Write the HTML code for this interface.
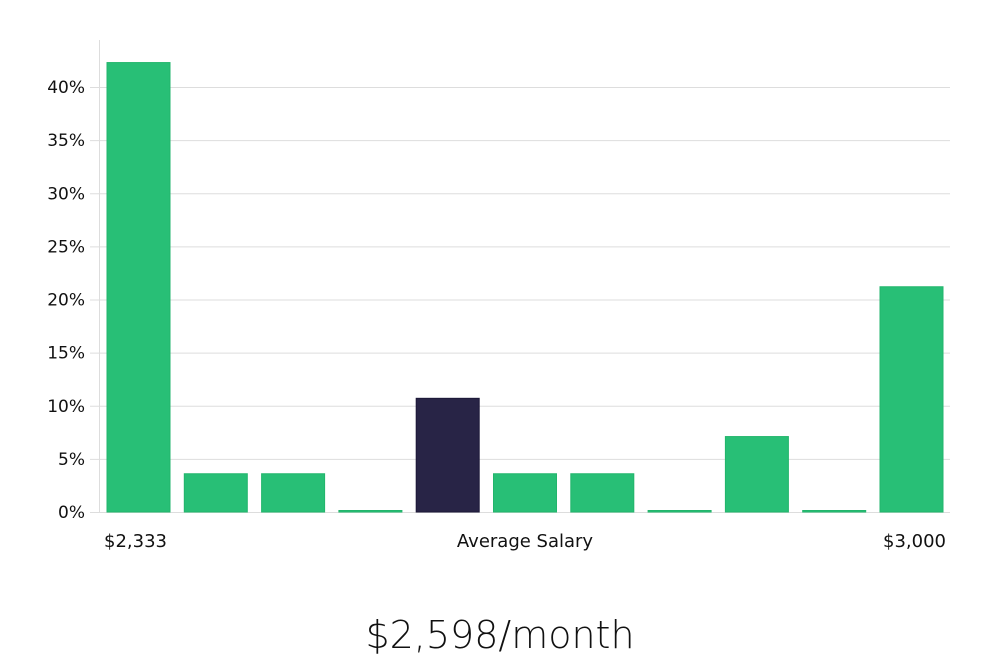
<!DOCTYPE html>
<html><head><meta charset="utf-8"><style>
body{margin:0;background:#fff;width:1000px;height:660px;overflow:hidden}
svg text{font-family:"DejaVu Sans","Liberation Sans",sans-serif}
</style></head><body>
<svg id="chart" width="1000" height="660" xmlns="http://www.w3.org/2000/svg">
<g id="grid"></g><g id="bars"></g><g id="labels"></g>
<text x="104" y="547" font-size="18" fill="#111">$2,333</text>
<text x="525" y="547" font-size="18" fill="#111" text-anchor="middle">Average Salary</text>
<text x="946" y="547" font-size="18" fill="#111" text-anchor="end">$3,000</text>
<text x="500" y="648" font-size="38" fill="#111" text-anchor="middle" style="font-family:'DejaVu Sans Light','Liberation Sans',sans-serif;font-weight:300">$2,598/month</text>
</svg>
<script>
const values=[42.3,3.6,3.6,0,10.7,3.6,3.6,0,7.1,0,21.2];
const highlight=[false,false,false,false,true,false,false,false,false,false,false];
const ticks=[0,5,10,15,20,25,30,35,40];
const ns="http://www.w3.org/2000/svg";
const y=v=>512-v*10.625;
const x=i=>107+i*77.3;
const grid=document.getElementById('grid'),bars=document.getElementById('bars'),labels=document.getElementById('labels');
function mk(tag,at,parent){const e=document.createElementNS(ns,tag);for(const k in at)e.setAttribute(k,at[k]);parent.appendChild(e);return e;}
const ax=mk('line',{x1:99.5,x2:99.5,y1:40,y2:512,stroke:'#ddd'},grid);


ticks.forEach(t=>{
 const l=mk('line',{x1:90,x2:950,y1:y(t)+0.5,y2:y(t)+0.5,stroke:'#ddd'},grid);
 
 
 const tx=mk('text',{x:85,y:y(t)+6,'font-size':17,fill:'#111','text-anchor':'end'},labels);
 tx.textContent=t+'%';
 
 
});
values.forEach((v,i)=>{
 const h=Math.max(v*10.625,1.5);
 const r=mk('rect',{x:x(i),y:512-h,width:63,height:h,fill:highlight[i]?'#282446':'#28bf76',stroke:highlight[i]?'#1c1838':'#22b56c','stroke-width':1},bars);
 
 
});
</script>
</body></html>
